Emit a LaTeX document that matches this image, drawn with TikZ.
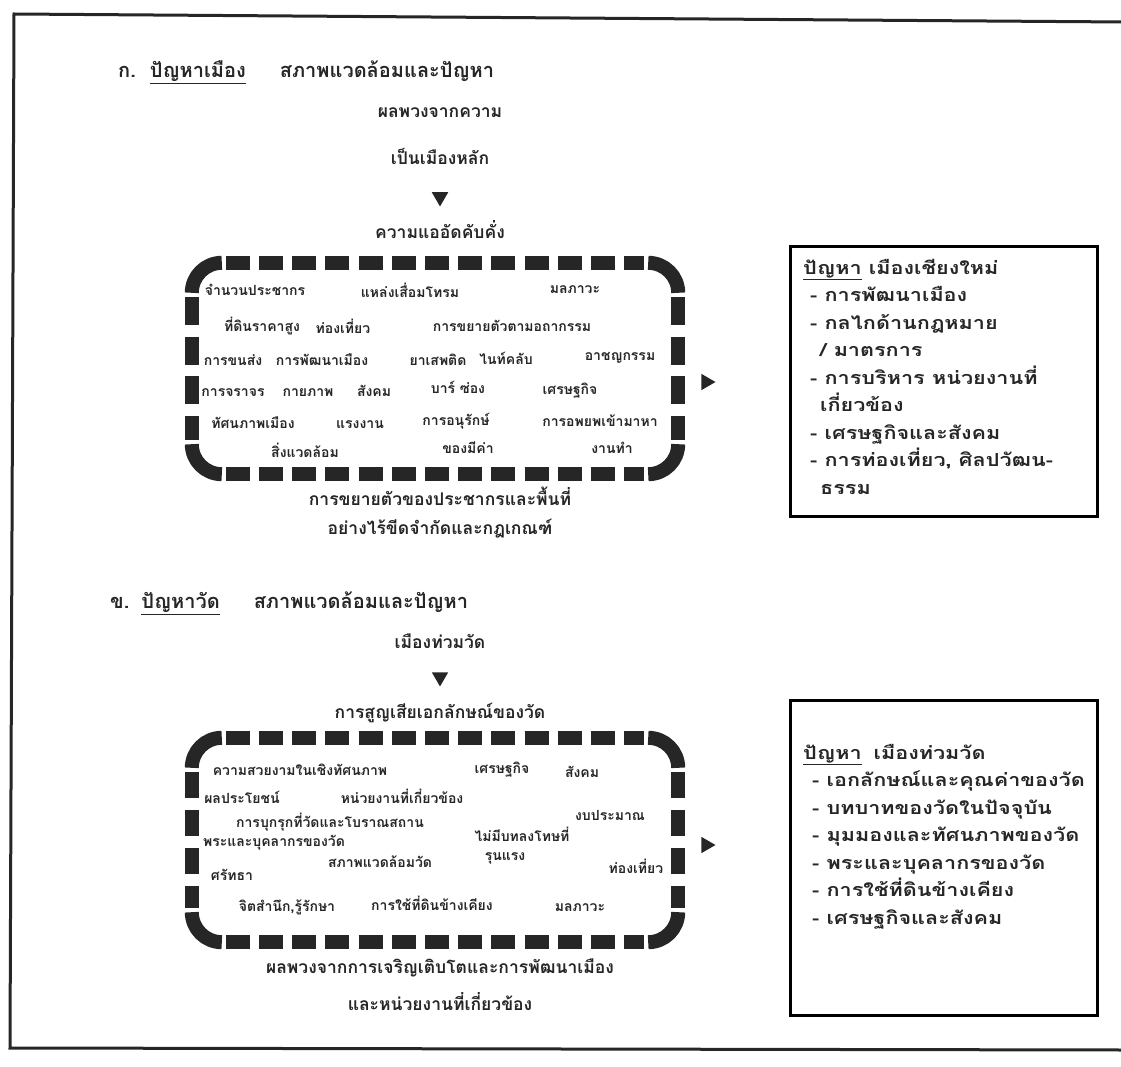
\documentclass[tikz,border=0pt]{standalone}
\usepackage{fontspec}
\newfontfamily\thaifont[Script=Thai]{Loma}
\newfontfamily\thaiwide[Script=Thai,FakeStretch=1.2]{Loma}
\usetikzlibrary{shapes.geometric}
\begin{document}
\begin{tikzpicture}[x=1pt,y=-1pt,
 every node/.style={font=\thaifont\bfseries, inner sep=0pt, text=black!85},
 hdr/.style={font=\thaifont\bfseries\fontsize{20}{23}\selectfont, anchor=west},
 lbl/.style={font=\thaifont\bfseries\fontsize{17.5}{21}\selectfont},
 itm/.style={font=\thaifont\bfseries\fontsize{14}{17}\selectfont},
 rtxt/.style={font=\thaiwide\bfseries\fontsize{18}{27.5}\selectfont, align=left, anchor=north west},
 rbox/.style={draw, line width=3pt, minimum width=307pt},
 area/.style={minimum width=486pt},
 bcorner/.style={line width=14pt, black!85},
 hdash/.style={line width=14pt, black!85, dash pattern=on 24pt off 9.2pt},
 vdashA/.style={line width=14pt, black!85, dash pattern=on 28pt off 11.7pt},
 vdashB/.style={line width=14pt, black!85, dash pattern=on 26pt off 12pt},
 tri/.style={regular polygon, regular polygon sides=3, fill=black!85, minimum size=19pt},
 frame/.style={line width=3pt, black!85}
]
\useasboundingbox (0,0) rectangle (1121,1067);
% outer frame
\draw[frame] (1125,22) -- (14,14) -- (10,1048) -- (1125,1050);

% ===== section A =====
\node[hdr] (hA) at (118,72) {ก.\hspace{14pt}\underline{ปัญหาเมือง}\hspace{34pt}สภาพแวดล้อมและปัญหา};
\node[lbl] (a1) at (440,113) {ผลพวงจากความ};
\node[lbl] (a2) at (440,156) {เป็นเมืองหลัก};
\node[tri, shape border rotate=180] (t1) at (440,197) {};
\node[lbl] (a3) at (440,230) {ความแออัดคับคั่ง};

\node[area, minimum height=211pt] (box1) at (435,368.5) {};
% corners
\draw[bcorner] ([yshift=-30pt]box1.north west) [rounded corners=30pt] -- (box1.north west) -- ([xshift=30pt]box1.north west);
\draw[bcorner] ([yshift=-30pt]box1.north east) [rounded corners=30pt] -- (box1.north east) -- ([xshift=-30pt]box1.north east);
\draw[bcorner] ([yshift=30pt]box1.south west) [rounded corners=30pt] -- (box1.south west) -- ([xshift=30pt]box1.south west);
\draw[bcorner] ([yshift=30pt]box1.south east) [rounded corners=30pt] -- (box1.south east) -- ([xshift=-30pt]box1.south east);
% dashed sides
\draw[hdash] ([xshift=34pt]box1.north west) -- ([xshift=-34pt]box1.north east);
\draw[hdash] ([xshift=34pt]box1.south west) -- ([xshift=-34pt]box1.south east);
\draw[vdashA] ([yshift=-34pt]box1.north west) -- ([yshift=34pt]box1.south west);
\draw[vdashA] ([yshift=-34pt]box1.north east) -- ([yshift=34pt]box1.south east);

% items of box 1
\node[itm] (b11) at (255,290) {จำนวนประชากร};
\node[itm] (b12) at (410,290) {แหล่งเสื่อมโทรม};
\node[itm] (b13) at (575,290) {มลภาวะ};
\node[itm] (b21) at (262,326) {ที่ดินราคาสูง};
\node[itm] (b22) at (343,326) {ท่องเที่ยว};
\node[itm] (b23) at (512,326) {การขยายตัวตามอถากรรม};
\node[itm] (b31) at (233,360) {การขนส่ง};
\node[itm] (b32) at (322,360) {การพัฒนาเมือง};
\node[itm] (b33) at (438,360) {ยาเสพติด};
\node[itm] (b34) at (506,358) {ไนท์คลับ};
\node[itm] (b35) at (620,358) {อาชญกรรม};
\node[itm] (b41) at (233,393) {การจราจร};
\node[itm] (b42) at (308,393) {กายภาพ};
\node[itm] (b43) at (374,391) {สังคม};
\node[itm] (b44) at (458,387) {บาร์ ซ่อง};
\node[itm] (b45) at (570,391) {เศรษฐกิจ};
\node[itm] (b51) at (253,423) {ทัศนภาพเมือง};
\node[itm] (b52) at (360,425) {แรงงาน};
\node[itm] (b53) at (456,421) {การอนุรักษ์};
\node[itm] (b54) at (600,421) {การอพยพเข้ามาหา};
\node[itm] (b61) at (305,450) {สิ่งแวดล้อม};
\node[itm] (b62) at (468,448) {ของมีค่า};
\node[itm] (b63) at (612,448) {งานทำ};

\node[lbl] (a4) at (440,496) {การขยายตัวของประชากรและพื้นที่};
\node[lbl] (a5) at (440,529) {อย่างไร้ขีดจำกัดและกฎเกณฑ์};

\node[tri, shape border rotate=-90] (t3) at (706,382) {};
\node[rbox, minimum height=269pt] (r1) at (943.5,381.5) {};
\node[rtxt] (r1t) at (803,259) {\underline{ปัญหา} เมืองเชียงใหม่\\
\hspace*{7pt}- การพัฒนาเมือง\\
\hspace*{7pt}- กลไกด้านกฎหมาย\\
\hspace*{17pt}/ มาตรการ\\
\hspace*{7pt}- การบริหาร หน่วยงานที่\\
\hspace*{17pt}เกี่ยวข้อง\\
\hspace*{7pt}- เศรษฐกิจและสังคม\\
\hspace*{7pt}- การท่องเที่ยว, ศิลปวัฒน-\\
\hspace*{17pt}ธรรม};

% ===== section B =====
\node[hdr] (hB) at (110,603) {ข.\hspace{12pt}\underline{ปัญหาวัด}\hspace{34pt}สภาพแวดล้อมและปัญหา};
\node[lbl] (c1) at (440,641) {เมืองท่วมวัด};
\node[tri, shape border rotate=180] (t2) at (440,677) {};
\node[lbl] (c2) at (440,713) {การสูญเสียเอกลักษณ์ของวัด};

\node[area, minimum height=204pt] (box2) at (435,840) {};
\draw[bcorner] ([yshift=-30pt]box2.north west) [rounded corners=30pt] -- (box2.north west) -- ([xshift=30pt]box2.north west);
\draw[bcorner] ([yshift=-30pt]box2.north east) [rounded corners=30pt] -- (box2.north east) -- ([xshift=-30pt]box2.north east);
\draw[bcorner] ([yshift=30pt]box2.south west) [rounded corners=30pt] -- (box2.south west) -- ([xshift=30pt]box2.south west);
\draw[bcorner] ([yshift=30pt]box2.south east) [rounded corners=30pt] -- (box2.south east) -- ([xshift=-30pt]box2.south east);
\draw[hdash] ([xshift=34pt]box2.north west) -- ([xshift=-34pt]box2.north east);
\draw[hdash] ([xshift=34pt]box2.south west) -- ([xshift=-34pt]box2.south east);
\draw[vdashB] ([yshift=-34pt]box2.north west) -- ([yshift=34pt]box2.south west);
\draw[vdashB] ([yshift=-34pt]box2.north east) -- ([yshift=34pt]box2.south east);

\node[itm] (d01) at (300,770) {ความสวยงามในเชิงทัศนภาพ};
\node[itm] (d02) at (502,770) {เศรษฐกิจ};
\node[itm] (d03) at (582,772) {สังคม};
\node[itm] (d04) at (242,797) {ผลประโยชน์};
\node[itm] (d05) at (402,796) {หน่วยงานที่เกี่ยวข้อง};
\node[itm] (d06) at (610,815) {งบประมาณ};
\node[itm] (d07) at (330,822) {การบุกรุกที่วัดและโบราณสถาน};
\node[itm] (d08) at (522,834) {ไม่มีบทลงโทษที่};
\node[itm] (d09) at (274,843) {พระและบุคลากรของวัด};
\node[itm] (d10) at (505,858) {รุนแรง};
\node[itm] (d11) at (380,862) {สภาพแวดล้อมวัด};
\node[itm] (d12) at (636,866) {ท่องเที่ยว};
\node[itm] (d13) at (232,875) {ศรัทธา};
\node[itm] (d14) at (287,907) {จิตสำนึก,รู้รักษา};
\node[itm] (d15) at (432,903) {การใช้ที่ดินข้างเคียง};
\node[itm] (d16) at (580,908) {มลภาวะ};

\node[lbl] (c3) at (440,968) {ผลพวงจากการเจริญเติบโตและการพัฒนาเมือง};
\node[lbl] (c4) at (440,1002) {และหน่วยงานที่เกี่ยวข้อง};

\node[tri, shape border rotate=-90] (t4) at (706,845) {};
\node[rbox, minimum height=315pt] (r2) at (943.5,857.5) {};
\node[rtxt] (r2t) at (803,744) {\underline{ปัญหา}\hspace{12pt}เมืองท่วมวัด\\
\hspace*{9pt}- เอกลักษณ์และคุณค่าของวัด\\
\hspace*{9pt}- บทบาทของวัดในปัจจุบัน\\
\hspace*{9pt}- มุมมองและทัศนภาพของวัด\\
\hspace*{9pt}- พระและบุคลากรของวัด\\
\hspace*{9pt}- การใช้ที่ดินข้างเคียง\\
\hspace*{9pt}- เศรษฐกิจและสังคม};
\end{tikzpicture}
\end{document}
